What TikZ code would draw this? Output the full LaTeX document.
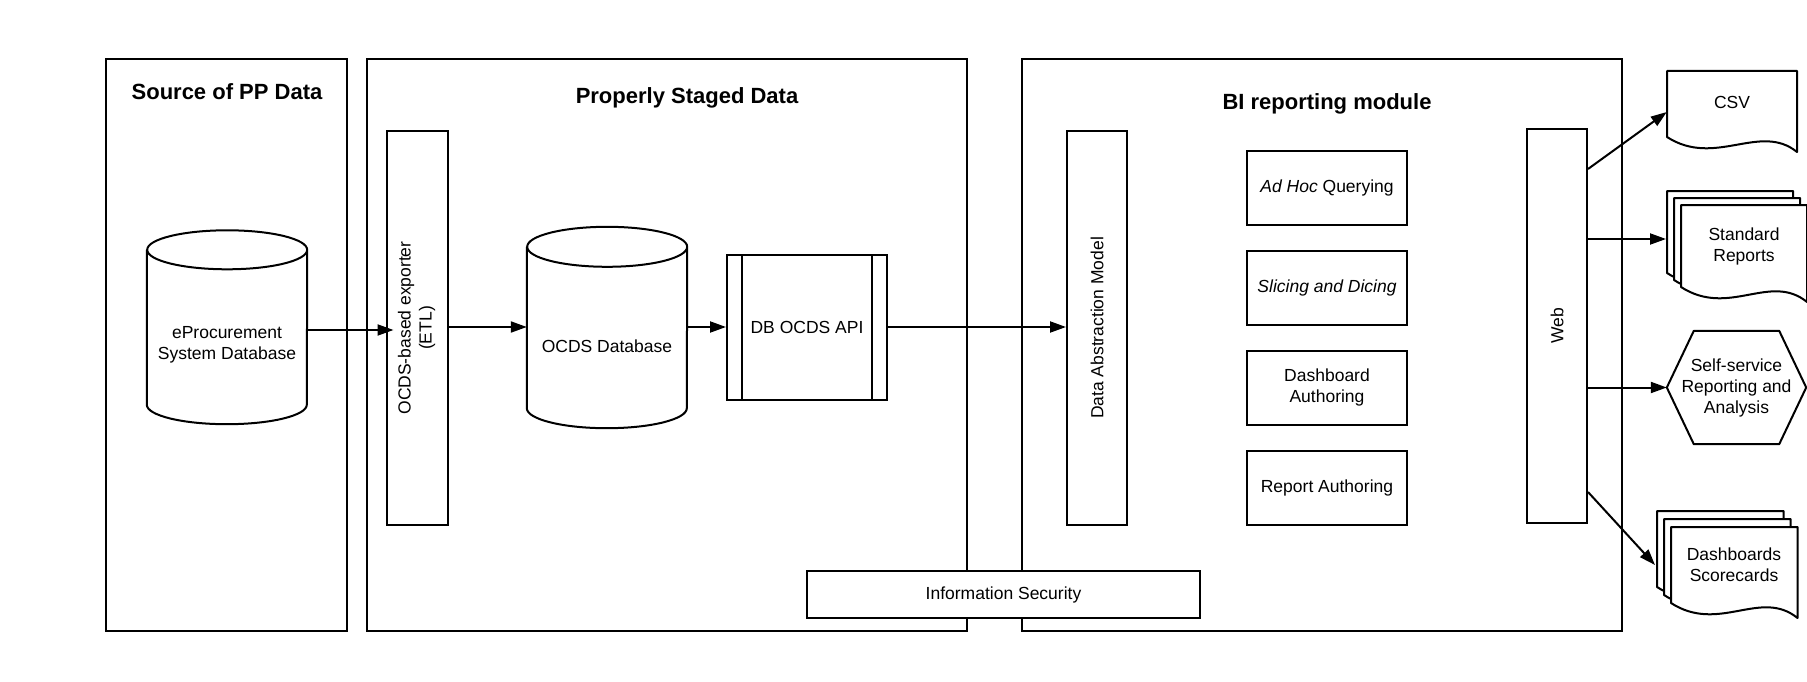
\documentclass[tikz,border=0pt]{standalone}
\usepackage{fontspec}
\setmainfont{Liberation Sans}
\usepackage{graphicx}
\usetikzlibrary{arrows.meta,backgrounds}

\begin{document}
\begin{tikzpicture}[x=1pt,y=-1pt,
  every node/.style={font=\fontsize{17.5}{21}\selectfont,align=center,inner sep=0pt},
  group/.style={draw,line width=2pt},
  grptitle/.style={font=\fontsize{22}{26}\selectfont\bfseries},
  blk/.style={draw,line width=2pt,fill=white},
  docpage/.style={draw,line width=2pt,fill=white,line join=round},
  arr/.style={-{Triangle[length=16pt,width=11pt]},line width=2pt}]

\useasboundingbox (0,0) rectangle (1807,682);

% the three big groups and their titles
\node[group,minimum width=240.6pt,minimum height=572pt] (srcgrp) at (226.7,344.6) {};
\node[group,minimum width=600.4pt,minimum height=572pt] (stagegrp) at (666.8,344.6) {};
\node[group,minimum width=600.3pt,minimum height=572pt] (bigrp) at (1321.9,344.6) {};
\node[grptitle] (srctitle) at (227,92) {Source of PP Data};
\node[grptitle] (stagetitle) at (687,97.5) {Properly Staged Data};
\node[grptitle] (bititle) at (1327,104) {BI reporting module};

% databases (text part only, the cylinder is drawn below)
\node[minimum width=160pt,minimum height=158pt] (srcdb) at (227,345) {eProcurement\\System Database};
\node[minimum width=160pt,minimum height=164pt] (ocdsdb) at (607,346) {OCDS Database};
\foreach \c/\t/\b/\r in {srcdb/16/19.5/19.5,ocdsdb/17/20/20}
  \draw[line width=2pt] ([yshift=\t pt]\c.north west) -- ([yshift=\b pt]\c.south west)
    arc[start angle=180,end angle=360,x radius=80pt,y radius=\r pt]
    -- ([yshift=\t pt]\c.north east)
    arc[start angle=0,end angle=360,x radius=80pt,y radius=\r pt];

\node[blk,minimum width=61pt,minimum height=394.5pt] (etl) at (417,328)
  {\rotatebox{90}{\begin{tabular}{@{}c@{}}OCDS-based exporter\\(ETL)\end{tabular}}};
\node[blk,minimum width=160pt,minimum height=145pt] (api) at (807,327.5) {DB OCDS API};
\draw[line width=2pt] ([xshift=16pt]api.north west) -- ([xshift=16pt]api.south west)
  ([xshift=-16pt]api.north east) -- ([xshift=-16pt]api.south east);

\node[blk,minimum width=60pt,minimum height=394pt] (dam) at (1097,328)
  {\rotatebox{90}{Data Abstraction Model}};
% Put the four BI functions in:
\foreach \n/\y/\t in {adhoc/187.7/{\textit{Ad Hoc} Querying},slicing/287.8/{\textit{Slicing and Dicing}},
    dashauth/387.8/{Dashboard\\Authoring},repauth/487.8/{Report Authoring}}
  \node[blk,minimum width=160pt,minimum height=74pt] (\n) at (1327,\y) {\t};
\node[blk,minimum width=60pt,minimum height=394pt] (web) at (1557,326) {\rotatebox{90}{Web}};

\node[blk,minimum width=393pt,minimum height=47.5pt] (infosec) at (1003.5,594.7) {Information Security};

% outputs: document pages, back to front
\foreach \x/\y/\w/\h in {1667/71/130/66,1667/191/126/82,1674/198/126/82,1681/205/126/82,
    1657/511/126.5/76,1664/519/126.5/76,1671/527/126.5/76}
  \draw[docpage] (\x,\y+\h) -- (\x,\y) -- (\x+\w,\y) -- (\x+\w,\y+\h+15)
    .. controls +(-37,-30) and +(48,31) .. (\x,\y+\h) -- cycle;
\node[minimum width=130pt,minimum height=62pt] (csv) at (1732,102) {CSV};
\node[minimum width=126pt,minimum height=82pt] (stdrep) at (1744,246) {Standard\\Reports};
\node[minimum width=126.5pt,minimum height=76pt] (dash) at (1734,565) {Dashboards\\Scorecards};
\node[minimum width=139pt,minimum height=113pt] (selfsvc) at (1736.5,387.5) {Self-service\\Reporting and\\Analysis};
\draw[line width=2pt,line join=round] (selfsvc.west) -- ([xshift=27pt]selfsvc.north west)
  -- ([xshift=-27pt]selfsvc.north east) -- (selfsvc.east)
  -- ([xshift=-27pt]selfsvc.south east) -- ([xshift=27pt]selfsvc.south west) -- cycle;
\coordinate (stdback) at (1666,239);
\coordinate (dashback) at (1655,565);

% data flow
\draw[arr,shorten >=-8pt] (srcdb.east |- 0,330) -- (etl.west |- 0,330);
\draw[arr] (etl.east |- 0,327) -- (ocdsdb.west |- 0,327);
\draw[arr] (ocdsdb.east |- 0,327) -- (api.west |- 0,327);
\draw[arr] (api.east |- 0,327) -- (dam.west |- 0,327);
\draw[arr] (web.east |- 0,169) -- (csv.west |- 0,112);
\draw[arr] (web.east |- 0,239) -- (stdback);
\draw[arr] (web.east |- selfsvc.west) -- (selfsvc.west);
\draw[arr] (web.east |- 0,492) -- (dashback);
\end{tikzpicture}
\end{document}
